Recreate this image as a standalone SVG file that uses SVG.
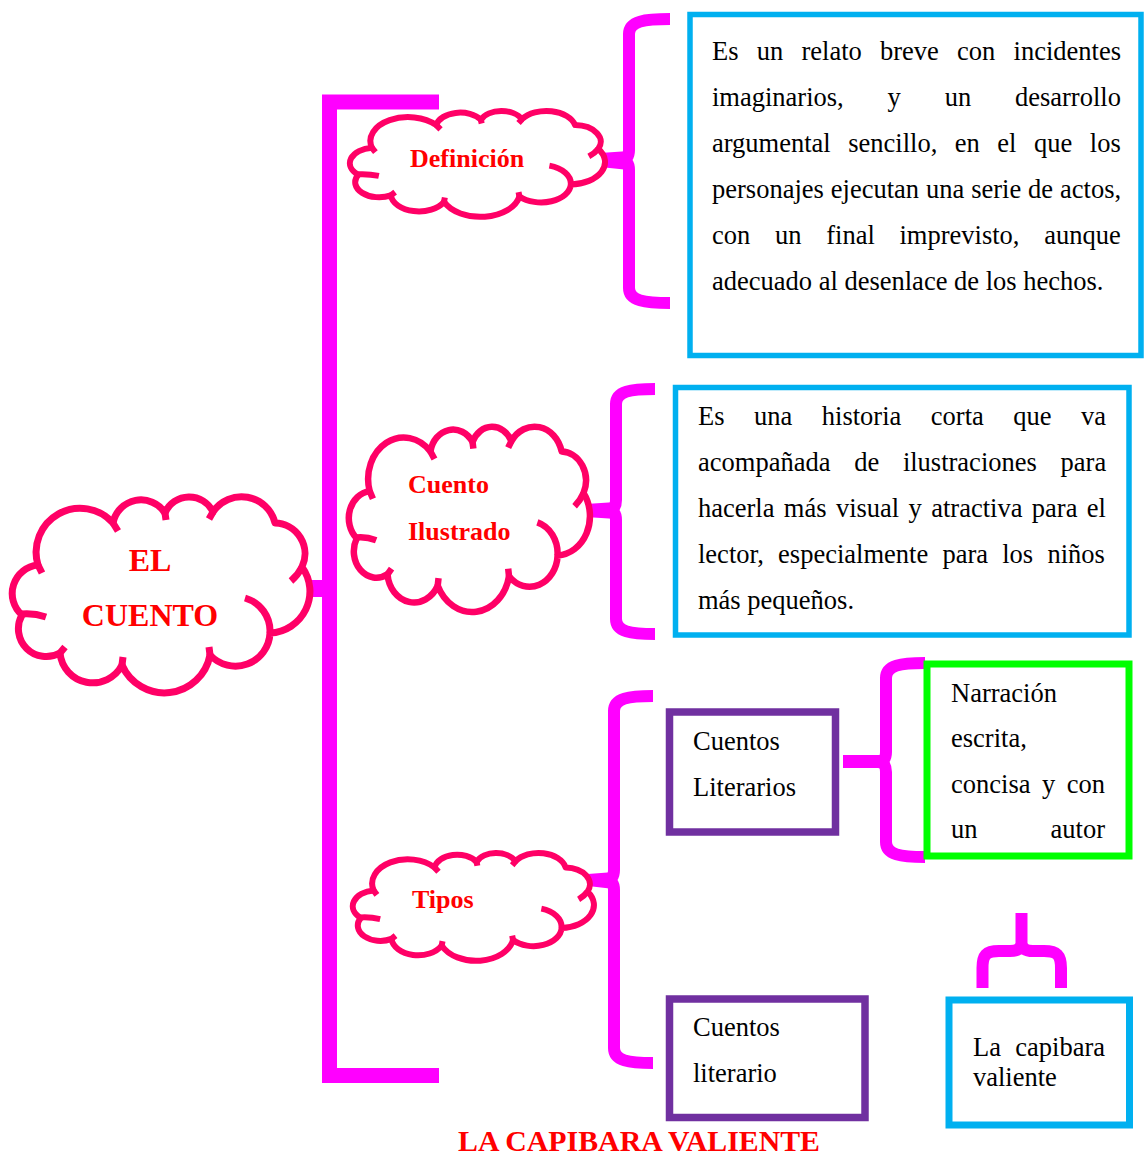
<svg xmlns="http://www.w3.org/2000/svg" xmlns:xlink="http://www.w3.org/1999/xlink" width="1144" height="1155" viewBox="0 0 1144 1155">
<style>
.cl{fill:#fff;stroke:#FF0066;vector-effect:non-scaling-stroke;stroke-linejoin:round}
.cr{fill:none;stroke:#FF0066;vector-effect:non-scaling-stroke}
.ct{font-family:"Liberation Serif","Times New Roman",serif;font-weight:bold;fill:#FF0000}
.bt{font-family:"Liberation Serif","Times New Roman",serif;font-size:26.5px;fill:#000}
.mg{fill:none;stroke:#FF00FF;stroke-width:12}
.mf{fill:#FF00FF}
.blue{fill:#fff;stroke:#00B0F0}
.purple{fill:#fff;stroke:#7030A0;stroke-width:7.5}
.green{fill:#fff;stroke:#00FF00;stroke-width:7}
</style>
<defs>
<g id="cloud">
<path class="cl" d="M28,70 A44,44 0 0 1 103,28 A28.5,28.5 0 0 1 155,18 A26.3,26.3 0 0 1 203,17 A34.4,34.4 0 0 1 265,28 A30.8,30.8 0 0 1 292,72 A41.6,41.6 0 0 1 260,138 A34.6,34.6 0 0 1 200,160 A46.3,46.3 0 0 1 112,170 A32.9,32.9 0 0 1 50,158 A27.9,27.9 0 0 1 12,120 A28.6,28.6 0 0 1 28,70 Z"/>
<path class="cr" d="M235,103 A34.6,34.6 0 0 1 260,138 M12,119 Q24,118 36,122 M28,70 L32,78 M103,28 L108,36 M155,18 L156,25 M203,17 L199,24 M292,72 Q288,80 281,86 M200,160 L199,152 M112,170 L113,162 M50,158 L55,152"/>
</g>
</defs>

<g id="connectors">
<path d="M439,102 L329.5,102 L329.5,1075.5 L439,1075.5" fill="none" stroke="#FF00FF" stroke-width="15"/>
<rect class="mf" x="304" y="580" width="26" height="17"/>
<polygon class="mf" points="600,153 629,151 629,170 600,167"/>
<path class="mg" d="M670,19 C645,19 629,21 629,34 L629,150 Q629,160 621,160 Q629,160 629,170 L629,288 C629,301 645,303 670,303"/>
<polygon class="mf" points="586,504 616,502 616,519 586,517"/>
<path class="mg" d="M655,389 C631,389 616,391 616,404 L616,500 Q616,510 608,510 Q616,510 616,520 L616,619 C616,632 631,634 655,634"/>
<polygon class="mf" points="588,874 614,872 614,889 588,886"/>
<path class="mg" d="M653,696 C629,696 614,698 614,711 L614,870 Q614,880 606,880 Q614,880 614,890 L614,1048 C614,1061 629,1063 653,1063"/>
<rect class="mf" x="843" y="755" width="43" height="13"/>
<path class="mg" d="M925,663 C901,663 886,665 886,678 L886,752 Q886,762 878,762 Q886,762 886,772 L886,842 C886,855 901,857 925,857"/>
<path class="mg" d="M1021.5,913 L1021.5,945"/>
<path class="mg" d="M982.5,988 L982.5,968 C982.5,955 986,951 999,951 L1010,951 Q1021.5,951 1021.5,943 Q1021.5,951 1033,951 L1044,951 C1057,951 1061,955 1061,968 L1061,988"/>
</g>

<g id="el-cuento">
<use xlink:href="#cloud" href="#cloud" transform="translate(10,495)" stroke-width="7"/>
<text class="ct" font-size="32" x="150" y="571" text-anchor="middle">EL</text>
<text class="ct" font-size="32" x="150" y="626" text-anchor="middle">CUENTO</text>
</g>

<g id="definicion">
<use xlink:href="#cloud" href="#cloud" transform="translate(348,110) scale(0.857,0.54)" stroke-width="6"/>
<text class="ct" font-size="26" x="410" y="167">Definición</text>
</g>

<g id="cuento-ilustrado">
<use xlink:href="#cloud" href="#cloud" transform="translate(347,425) scale(0.81,0.945)" stroke-width="6.5"/>
<text class="ct" font-size="26" x="408" y="493">Cuento</text>
<text class="ct" font-size="26" x="408" y="540">Ilustrado</text>
</g>

<g id="tipos">
<use xlink:href="#cloud" href="#cloud" transform="translate(351,852) scale(0.81,0.55)" stroke-width="6"/>
<text class="ct" font-size="26" x="412" y="908">Tipos</text>
</g>

<g id="definicion-texto">
<rect class="blue" x="690" y="14.5" width="451" height="341" stroke-width="5.5"/>
<text class="bt" x="712" y="60" word-spacing="11.6">Es un relato breve con incidentes</text>
<text class="bt" x="712" y="106" word-spacing="37.2">imaginarios, y un desarrollo</text>
<text class="bt" x="712" y="152" word-spacing="10.9">argumental sencillo, en el que los</text>
<text class="bt" x="712" y="198" word-spacing="0.3">personajes ejecutan una serie de actos,</text>
<text class="bt" x="712" y="244" word-spacing="18.1">con un final imprevisto, aunque</text>
<text class="bt" x="712" y="290">adecuado al desenlace de los hechos.</text>
</g>

<g id="ilustrado-texto">
<rect class="blue" x="675.5" y="387.5" width="453.5" height="247.5" stroke-width="5.5"/>
<text class="bt" x="698" y="425" word-spacing="22.9">Es una historia corta que va</text>
<text class="bt" x="698" y="471" word-spacing="17.1">acompañada de ilustraciones para</text>
<text class="bt" x="698" y="517" word-spacing="2.75">hacerla más visual y atractiva para el</text>
<text class="bt" x="698" y="563" word-spacing="7.6">lector, especialmente para los niños</text>
<text class="bt" x="698" y="609">más pequeños.</text>
</g>

<g id="cuentos-literarios">
<rect class="purple" x="669.5" y="712" width="166" height="120"/>
<text class="bt" x="693" y="750">Cuentos</text>
<text class="bt" x="693" y="796">Literarios</text>
</g>

<g id="narracion">
<rect class="green" x="927" y="664" width="202" height="192"/>
<text class="bt" x="951" y="702">Narración</text>
<text class="bt" x="951" y="747">escrita,</text>
<text class="bt" x="951" y="793" word-spacing="4.9">concisa y con</text>
<text class="bt" x="951" y="838" word-spacing="66.4">un autor</text>
</g>

<g id="cuentos-literario">
<rect class="purple" x="669.5" y="999" width="195.5" height="118.5"/>
<text class="bt" x="693" y="1036">Cuentos</text>
<text class="bt" x="693" y="1082">literario</text>
</g>

<g id="la-capibara">
<rect class="blue" x="949" y="1000" width="180.5" height="125" stroke-width="7"/>
<text class="bt" x="973" y="1056" word-spacing="7.7">La capibara</text>
<text class="bt" x="973" y="1086">valiente</text>
</g>

<g id="titulo">
<text class="ct" font-size="30" x="458" y="1151" textLength="362" lengthAdjust="spacingAndGlyphs">LA CAPIBARA VALIENTE</text>
</g>
</svg>
